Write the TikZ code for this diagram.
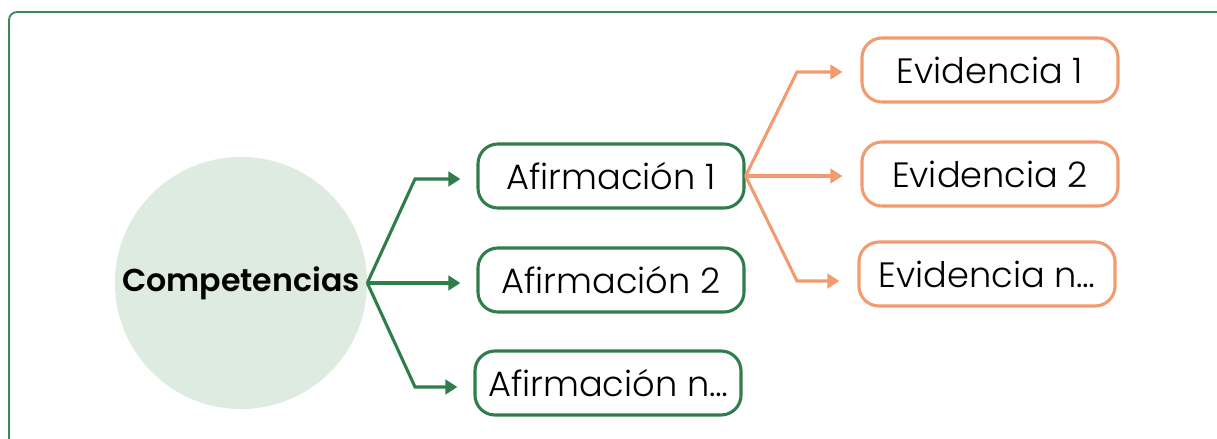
\documentclass[tikz,border=0pt]{standalone}
\usepackage{fontspec}
\setmainfont{Poppins}
\newfontfamily\lightfont{Poppins Light}
\newfontfamily\semifont{Poppins SemiBold}
\usetikzlibrary{arrows.meta}
\definecolor{marco}{HTML}{3A8A5A}
\definecolor{verde}{HTML}{2E7D4A}
\definecolor{salmon}{HTML}{F29B70}
\definecolor{circ}{HTML}{DDEBE1}
\begin{document}
\begin{tikzpicture}[x=0.025cm, y=-0.025cm,
  box/.style = {line width=2.2pt, rounded corners=0.5cm, minimum height=1.6cm, inner sep=0pt, font=\lightfont\fontsize{25}{30}\selectfont},
  afir/.style = {box, draw=verde, minimum width=6.65cm},
  evid/.style = {box, draw=salmon, minimum width=6.4cm},
  garrow/.style = {draw=verde, line width=2.2pt, -{Triangle[length=0.3cm, width=0.36cm]}, shorten >=0.4cm},
  oarrow/.style = {draw=salmon, line width=2.2pt, -{Triangle[length=0.3cm, width=0.36cm]}, shorten >=0.45cm}]
\useasboundingbox (0,0) rectangle (1217,439);
\draw[marco, line width=1.3pt, rounded corners=0.2cm] (1220,12) -- (9,12) -- (9,442);

\node[circle, fill=circ, minimum size=6.3cm, inner sep=0pt, font=\semifont\fontsize{22.5}{27}\selectfont] (comp) at (241,283) {Competencias};

\node[afir] (a1) at (611,176) {Afirmación 1};
\node[afir] (a2) at (611,280) {Afirmación 2};
\node[afir] (a3) at (608,383) {Afirmación n…};

\node[evid] (e1) at (990,70) {Evidencia 1};
\node[evid] (e2) at (990,174) {Evidencia 2};
\node[evid] (e3) at (987,274) {Evidencia n…};

\coordinate (g1) at (415,179);
\coordinate (g3) at (415,387);
\coordinate (o1) at (797,72);
\coordinate (o3) at (797,281);

\draw[garrow] (comp.east) -- (g1) -- (g1 -| a1.west);
\draw[garrow] (comp.east) -- (comp.east -| a2.west);
\draw[garrow] (comp.east) -- (g3) -- (g3 -| a3.west);

\draw[oarrow] (a1.east) -- (o1) -- (o1 -| e1.west);
\draw[oarrow] (a1.east) -- (a1.east -| e2.west);
\draw[oarrow] (a1.east) -- (o3) -- (o3 -| e3.west);

\end{tikzpicture}
\end{document}
